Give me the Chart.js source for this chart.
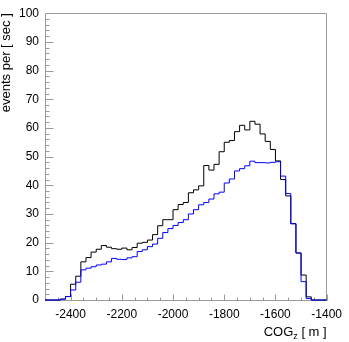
<!DOCTYPE html>
<html>
<head>
<meta charset="utf-8">
<script src="https://cdn.jsdelivr.net/npm/chart.js@4.4.1/dist/chart.umd.min.js"></script>
<style>
  html, body { margin: 0; padding: 0; background: #fff; }
  #wrap { width: 349px; height: 342px; }
</style>
</head>
<body>
<div id="wrap"><canvas id="cogChart"></canvas></div>
<script>
// histogram bins: 20 m wide, from -2500 to -1400
const xMin = -2500;
const xMax = -1400;
const binWidth = 20;

const blackCounts = [
  0, 0, 0, 0.3, 1.2, 5.5, 8.3, 13.3, 14.8, 16.7,
  17.7, 19.0, 18.4, 17.9, 17.7, 18.1, 17.5, 18.3, 19.8, 20.1,
  20.9, 22.8, 25.9, 28.0, 28.0, 31.5, 33.3, 34.0, 37.4, 38.4,
  39.8, 46.9, 45.3, 47.3, 51.7, 55.0, 55.6, 58.7, 60.9, 59.3,
  62.3, 61.3, 57.9, 55.3, 52.5, 48.5, 42.0, 36.3, 26.6, 16.4,
  8.7, 1.1, 0, 0, 0
];

const blueCounts = [
  0, 0, 0, 0.3, 1.2, 3.5, 6.2, 10.5, 11.1, 11.6,
  12.2, 12.5, 13.3, 14.5, 14.2, 14.1, 14.7, 15.1, 16.9, 17.5,
  18.6, 19.5, 21.5, 23.5, 24.9, 26.0, 27.0, 28.0, 30.0, 31.5,
  33.2, 34.0, 35.2, 37.0, 37.6, 40.8, 42.2, 45.0, 45.8, 46.8,
  48.4, 47.9, 47.9, 47.8, 48.0, 48.2, 43.2, 37.1, 26.6, 16.4,
  6.4, 0.5, 0, 0, 0
];

const xTicks = [-2400, -2200, -2000, -1800, -1600, -1400];
const yTicks = [0, 10, 20, 30, 40, 50, 60, 70, 80, 90, 100];

const fontFamily = "'Liberation Sans', Arial, Helvetica, sans-serif";

function toSteps(counts) {
  const pts = counts.map((c, i) => ({ x: xMin + i * binWidth, y: c }));
  pts.push({ x: xMin + counts.length * binWidth, y: counts[counts.length - 1] });
  return pts;
}

// frame, inward ticks and axis titles (ROOT style)
const framePlugin = {
  id: 'frame',
  beforeDatasetsDraw(chart) {
    const { ctx, chartArea: a, scales } = chart;
    const xs = scales.x, ys = scales.y;
    ctx.save();
    ctx.strokeStyle = '#9a9a9a';
    ctx.lineWidth = 1;
    const L = Math.round(a.left) + 0.5, R = Math.round(a.right) - 0.5;
    const T = Math.round(a.top) + 0.5, B = Math.round(a.bottom) + 0.5;
    ctx.beginPath();
    ctx.moveTo(L, T); ctx.lineTo(R, T); ctx.lineTo(R, B); ctx.lineTo(L, B); ctx.closePath();
    // y ticks, minor every 2
    for (let v = 0; v <= 100; v += 2) {
      const py = Math.round(ys.getPixelForValue(v)) + 0.5;
      const len = v % 10 === 0 ? 8 : 4;
      ctx.moveTo(L, py); ctx.lineTo(L + len, py);
    }
    // x ticks, minor every 50
    for (let v = xMin; v <= xMax; v += 50) {
      const px = Math.round(xs.getPixelForValue(v)) + 0.5;
      const len = v % 200 === 0 ? 6 : 3;
      ctx.moveTo(px, B); ctx.lineTo(px, B - len);
    }
    ctx.stroke();
    ctx.restore();
  },
  afterDraw(chart) {
    const { ctx, chartArea: a } = chart;
    ctx.save();
    ctx.fillStyle = '#000';
    // x title with subscript
    ctx.textBaseline = 'alphabetic';
    ctx.textAlign = 'left';
    const big = '13px ' + fontFamily, small = '9px ' + fontFamily;
    ctx.font = big; const w1 = ctx.measureText('COG').width;
    const w3 = ctx.measureText(' [ m ]').width;
    ctx.font = small; const w2 = ctx.measureText('z').width;
    let x = a.right - (w1 + w2 + w3);
    const base = 336;
    ctx.font = big; ctx.fillText('COG', x, base); x += w1;
    ctx.font = small; ctx.fillText('z', x, base + 3); x += w2;
    ctx.font = big; ctx.fillText(' [ m ]', x, base);
    // y title
    ctx.translate(10, a.top);
    ctx.rotate(-Math.PI / 2);
    ctx.textAlign = 'right';
    ctx.font = big;
    ctx.fillText('events per [ sec ]', 0, 0);
    ctx.restore();
  }
};

const ctx = document.getElementById('cogChart').getContext('2d');
const cogChart = new Chart(ctx, {
  type: 'line',
  data: {
    datasets: [
      {
        label: 'blue',
        data: toSteps(blueCounts),
        borderColor: '#0000ff',
        borderWidth: 1,
        stepped: 'before',
        pointRadius: 0,
        fill: false,
        clip: 3,
        order: 0
      },
      {
        label: 'black',
        data: toSteps(blackCounts),
        borderColor: '#000000',
        borderWidth: 1,
        stepped: 'before',
        pointRadius: 0,
        fill: false,
        clip: 3,
        order: 1
      }
    ]
  },
  options: {
    responsive: true,
    maintainAspectRatio: false,
    animation: false,
    layout: { padding: { left: 0, right: 17, top: 5, bottom: 0 } },
    plugins: {
      legend: { display: false },
      tooltip: { enabled: false }
    },
    scales: {
      x: {
        type: 'linear',
        min: xMin,
        max: xMax,
        afterBuildTicks: s => { s.ticks = xTicks.map(v => ({ value: v })); },
        afterFit: s => { s.height = 42; },
        grid: { display: false, drawTicks: false },
        border: { display: false },
        ticks: {
          padding: 7,
          color: '#000',
          font: { family: fontFamily, size: 12 },
          maxRotation: 0,
          callback: v => String(v)
        }
      },
      y: {
        type: 'linear',
        min: 0,
        max: 100,
        afterBuildTicks: s => { s.ticks = yTicks.map(v => ({ value: v })); },
        afterFit: s => { s.width = 45; },
        grid: { display: false, drawTicks: false },
        border: { display: false },
        ticks: {
          padding: 6,
          color: '#000',
          font: { family: fontFamily, size: 12 },
          callback: v => String(v)
        }
      }
    }
  },
  plugins: [framePlugin]
});
</script>
</body>
</html>
